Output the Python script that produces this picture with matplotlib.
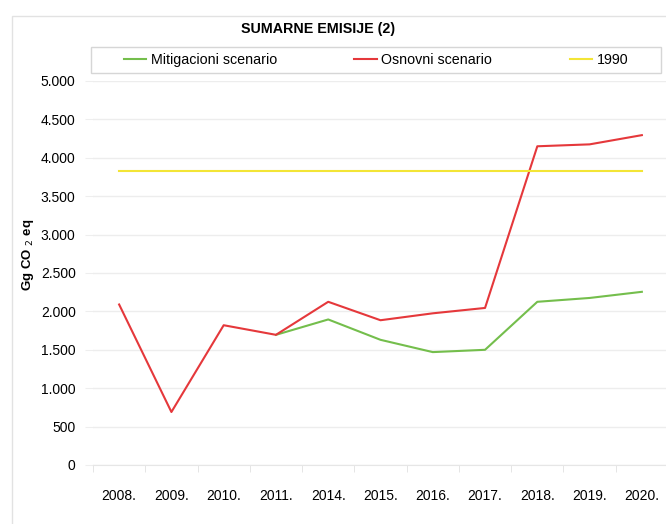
import matplotlib
matplotlib.use('Agg')
import matplotlib.pyplot as plt
from matplotlib.patches import Rectangle

plt.rcParams['font.family'] = ['Liberation Sans', 'DejaVu Sans']

years = ['2008.', '2009.', '2010.', '2011.', '2014.', '2015.', '2016.', '2017.', '2018.', '2019.', '2020.']
osnovni = [2090, 690, 1820, 1695, 2125, 1885, 1975, 2045, 4150, 4175, 4295]
mitigacioni = [None, None, None, 1695, 1895, 1630, 1470, 1500, 2125, 2175, 2255]
base_1990 = [3830] * len(years)

W, H = 666, 524
fig = plt.figure(figsize=(W / 100, H / 100), dpi=100)

# outer chart border
fig.patches.append(Rectangle((12 / W, -0.01), 1.0, 1 - 16 / H + 0.01, transform=fig.transFigure,
                             fill=False, edgecolor='#e2e2e2', linewidth=1))
# legend frame
fig.patches.append(Rectangle((91 / W, 1 - 73 / H), 570 / W, 26 / H, transform=fig.transFigure,
                             fill=False, edgecolor='#d6d6d6', linewidth=1))

ax = fig.add_axes([93 / W, 1 - 465 / H, 575 / W, 384 / H])
x = list(range(len(years)))

mx = [i for i, v in zip(x, mitigacioni) if v is not None]
my = [v for v in mitigacioni if v is not None]
ax.plot(mx, my, color='#74be4c', linewidth=1.5, label='Mitigacioni scenario')
ax.plot(x, osnovni, color='#e5383b', linewidth=1.5, label='Osnovni scenario')
ax.plot(x, base_1990, color='#f3e536', linewidth=1.5, label='1990')

ax.set_xlim(-0.5, len(years) - 0.5)
ax.set_ylim(0, 5000)
ax.set_yticks(range(0, 5001, 500))
ax.set_yticklabels([f'{v:,}'.replace(',', '.') for v in range(0, 5001, 500)])
ax.set_xticks(x)
ax.set_xticklabels(years)
ax.set_xticks([i - 0.5 for i in range(len(years) + 1)], minor=True)
ax.tick_params(axis='x', which='major', length=0, pad=17, labelsize=10)
ax.tick_params(axis='x', which='minor', length=5, color='#e0e0e0')
ax.tick_params(axis='y', length=6, color='#eeeeee', pad=6.5, labelsize=10)
ax.grid(axis='y', color='#ededed', linewidth=1)
ax.set_axisbelow(True)
for s in ax.spines.values():
    s.set_visible(False)
ax.spines['bottom'].set_visible(True)
ax.spines['bottom'].set_color('#e6e6e6')

ax.set_ylabel('Gg CO $_2$ eq', fontsize=9.5, fontweight='bold')
ax.yaxis.set_label_coords(-57 / 575, (465 - 255) / 384)

fig.text(318 / W, 1 - 29 / H, 'SUMARNE EMISIJE (2)', ha='center', va='center',
         fontsize=10.3, fontweight='bold')

leg = fig.legend(loc='center', bbox_to_anchor=(376 / W, 1 - 60 / H), ncol=3, fontsize=10.3,
                 frameon=False, handlelength=1.6, handletextpad=0.3, columnspacing=5.4)

fig.savefig('out.png', dpi=100)
